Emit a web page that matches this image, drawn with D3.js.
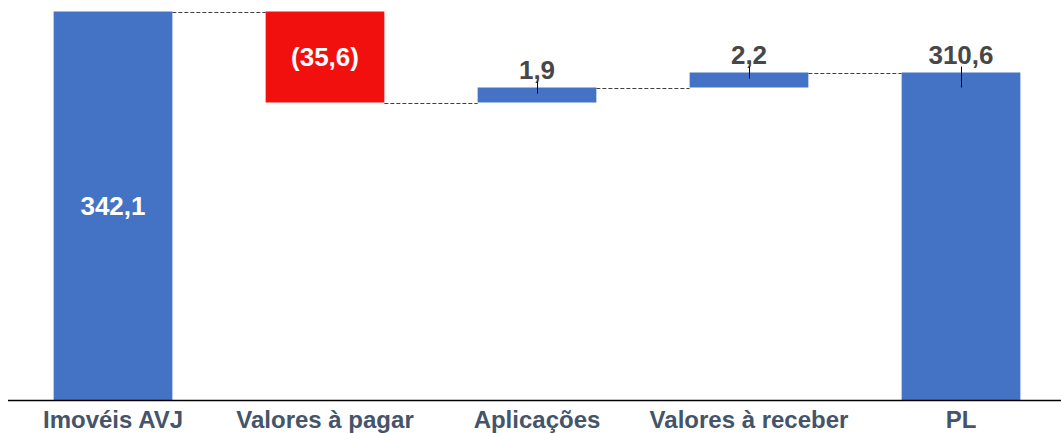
<!DOCTYPE html>
<html>
<head>
<meta charset="utf-8">
<script src="https://cdn.jsdelivr.net/npm/d3@7"></script>
<style>
  body { margin: 0; background: #fff; }
  text { font-family: "Liberation Sans", Arial, sans-serif; font-weight: bold; }
</style>
</head>
<body>
<div id="chart"></div>
<script>
var categories = ['Imovéis AVJ', 'Valores à pagar', 'Aplicações', 'Valores à receber', 'PL'];
var values = [342.1, -35.6, 1.9, 2.2, 310.6];
var is_total = [true, false, false, false, true];
var value_labels = ['342,1', '(35,6)', '1,9', '2,2', '310,6'];

var chart_width = 1061;
var chart_height = 433;
var baseline = 400;

// build start/end of each step
var running = 0;
var steps = values.map(function(v, i) {
  var s, e;
  if (is_total[i]) { s = 0; e = v; running = v; }
  else { s = running; e = running + v; running = e; }
  return {cat: categories[i], value: v, start: s, end: e, total: is_total[i], label: value_labels[i]};
});

var svg = d3.select('#chart')
  .append('svg')
  .attr('width', chart_width)
  .attr('height', chart_height);

var x_scale = d3.scaleBand()
  .domain(categories)
  .range([7, 1067])
  .paddingInner(0.44)
  .paddingOuter(0.22);

// the original chart is not drawn to scale, so a piecewise scale keeps the steps readable
var y_scale = d3.scaleLinear()
  .domain([0, 306.5, 308.4, 310.6, 342.1])
  .range([baseline, 102.5, 87.5, 72.5, 11.5]);

// connectors
svg.selectAll('line.conn')
  .data(steps.slice(0, -1))
  .enter()
  .append('line')
  .attr('class', 'conn')
  .attr('x1', function(d) { return x_scale(d.cat) + x_scale.bandwidth(); })
  .attr('x2', function(d, i) { return x_scale(categories[i + 1]); })
  .attr('y1', function(d) { return Math.round(y_scale(d.end)) + 0.5; })
  .attr('y2', function(d) { return Math.round(y_scale(d.end)) + 0.5; })
  .attr('stroke', '#404040')
  .attr('stroke-width', 1)
  .attr('stroke-dasharray', '4,2');

// bars
svg.selectAll('rect.bar')
  .data(steps)
  .enter()
  .append('rect')
  .attr('class', 'bar')
  .attr('x', function(d) { return x_scale(d.cat); })
  .attr('width', x_scale.bandwidth())
  .attr('y', function(d) { return y_scale(Math.max(d.start, d.end)); })
  .attr('height', function(d) { return Math.abs(y_scale(d.start) - y_scale(d.end)); })
  .attr('fill', function(d) { return d.value < 0 ? '#F2100F' : '#4472C4'; });

// axis line
svg.append('line')
  .attr('x1', 8)
  .attr('x2', chart_width)
  .attr('y1', baseline + 0.5)
  .attr('y2', baseline + 0.5)
  .attr('stroke', '#000')
  .attr('stroke-width', 1.5);

// category labels
svg.selectAll('text.cat')
  .data(categories)
  .enter()
  .append('text')
  .attr('class', 'cat')
  .attr('x', function(d) { return x_scale(d) + x_scale.bandwidth() / 2; })
  .attr('y', 428)
  .attr('text-anchor', 'middle')
  .attr('font-size', 24)
  .attr('fill', '#44546A')
  .text(function(d) { return d; });

// value labels: inside for Imovéis and the negative bar, above for the others
function inside(d, i) { return i === 0 || d.value < 0; }

svg.selectAll('text.val')
  .data(steps)
  .enter()
  .append('text')
  .attr('class', 'val')
  .attr('x', function(d) { return x_scale(d.cat) + x_scale.bandwidth() / 2; })
  .attr('y', function(d, i) {
    if (inside(d, i)) {
      return (y_scale(d.start) + y_scale(d.end)) / 2 + 9;
    }
    return y_scale(Math.max(d.start, d.end)) - 9;
  })
  .attr('text-anchor', 'middle')
  .attr('font-size', 26)
  .attr('fill', function(d, i) { return inside(d, i) ? '#fff' : '#474747'; })
  .text(function(d) { return d.label; });

// leader ticks under the outside labels
svg.selectAll('line.lead')
  .data(steps.filter(function(d, i) { return !inside(d, i); }))
  .enter()
  .append('line')
  .attr('class', 'lead')
  .attr('x1', function(d) { return Math.round(x_scale(d.cat) + x_scale.bandwidth() / 2) + 0.5; })
  .attr('x2', function(d) { return Math.round(x_scale(d.cat) + x_scale.bandwidth() / 2) + 0.5; })
  .attr('y1', function(d) { return y_scale(Math.max(d.start, d.end)) - 6; })
  .attr('y2', function(d) { return y_scale(Math.max(d.start, d.end)) + (d.total ? 15 : 6); })
  .attr('stroke', '#000')
  .attr('stroke-width', 1);
</script>
</body>
</html>
